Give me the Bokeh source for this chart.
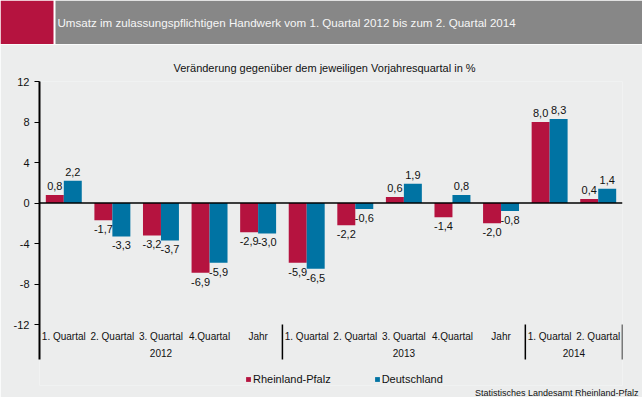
from bokeh.plotting import figure
from bokeh.models import FactorRange, FixedTicker, Span, Legend, LegendItem, Title, ColumnDataSource
from bokeh.transform import dodge
from bokeh.layouts import column
from bokeh.core.properties import value
from bokeh.embed import file_html
from bokeh.resources import INLINE

# ---------------- data ----------------
title_text = "Umsatz im zulassungspflichtigen Handwerk vom 1. Quartal 2012 bis zum 2. Quartal 2014"
subtitle_text = "Veränderung gegenüber dem jeweiligen Vorjahresquartal in %"
source_text = "Statistisches Landesamt Rheinland-Pfalz"

years = ["2012"] * 5 + ["2013"] * 5 + ["2014"] * 2
quarters = ["1. Quartal", "2. Quartal", "3. Quartal", "4.Quartal", "Jahr",
            "1. Quartal", "2. Quartal", "3. Quartal", "4.Quartal", "Jahr",
            "1. Quartal", "2. Quartal"]
rlp = [0.8, -1.7, -3.2, -6.9, -2.9, -5.9, -2.2, 0.6, -1.4, -2.0, 8.0, 0.4]
de = [2.2, -3.3, -3.7, -5.9, -3.0, -6.5, -0.6, 1.9, 0.8, -0.8, 8.3, 1.4]
series_names = ["Rheinland-Pfalz", "Deutschland"]
y_ticks = [-12, -8, -4, 0, 4, 8, 12]
y_tick_labels = ["-12", "-8", "-4", "0", "4", "8", "12"]

# ---------------- style / layout ----------------
RED = "#B5133F"
BLUE = "#0073A3"
GRAY = "#878787"
BG = "#ECEDED"
TXT = "#111111"
FONT = "Liberation Sans"
W = 642
HDR_H = 44
BLOCK_W = 53
GAP_W = 2
FRAME_W = 583
FRAME_H = 304
BORDER_L, BORDER_R, BORDER_T, BORDER_B = 39, 20, 37, 12
PX_PER_UNIT = 243 / 24.0
Y_TOP = y_ticks[-1]
Y_BOTTOM = Y_TOP - FRAME_H / PX_PER_UNIT
SEP_DEPTH_PX = 35
BAR_W = 0.37

# ---------------- header ----------------
hdr = figure(width=W, height=HDR_H, x_range=(0, W), y_range=(0, HDR_H),
             toolbar_location=None, output_backend="svg", min_border=0,
             x_axis_location=None, y_axis_location=None)
hdr.frame_align = False
hdr.grid.visible = False
hdr.outline_line_color = None
hdr.background_fill_color = "white"
hdr.border_fill_color = "white"
hdr.quad(left=[0, BLOCK_W + GAP_W], right=[BLOCK_W, W], bottom=[0, 0],
         top=[HDR_H, HDR_H], fill_color=[RED, GRAY], line_color=None)
hdr.text(x=[BLOCK_W + GAP_W + 2], y=[HDR_H / 2], text=[title_text], text_font=value(FONT),
         text_font_size="11.6px", text_color="#F6F6F6", text_baseline="middle",
         text_align="left")

# ---------------- main chart ----------------
factors = list(zip(years, quarters))
x_range = FactorRange(*factors, group_padding=0, range_padding=0, factor_padding=0)

p = figure(frame_width=FRAME_W, frame_height=FRAME_H, x_range=x_range,
           y_range=(Y_BOTTOM, Y_TOP), toolbar_location=None, output_backend="svg",
           title=subtitle_text, x_axis_location=None,
           min_border_left=BORDER_L, min_border_right=BORDER_R,
           min_border_top=BORDER_T, min_border_bottom=BORDER_B)
p.frame_align = False
p.background_fill_color = BG
p.border_fill_color = BG
p.outline_line_color = None
p.grid.visible = False

p.title.align = "left"
p.title.text_font = FONT
p.title.text_font_size = "11px"
p.title.text_font_style = "normal"
p.title.text_color = TXT
p.title.offset = 134
p.title.standoff = 15

src = ColumnDataSource(dict(x=factors, rlp=rlp, de=de))
r_rlp = p.vbar(x=dodge("x", -BAR_W / 2, range=p.x_range), top="rlp", width=BAR_W,
               fill_color=RED, line_color=None, source=src)
r_de = p.vbar(x=dodge("x", BAR_W / 2, range=p.x_range), top="de", width=BAR_W,
              fill_color=BLUE, line_color=None, source=src)

def fmt(v):
    return f"{v:.1f}".replace(".", ",")

for vals, off in ((rlp, -BAR_W / 2), (de, BAR_W / 2)):
    for positive in (True, False):
        xs = [f for f, v in zip(factors, vals) if (v >= 0) == positive]
        ys = [v for v in vals if (v >= 0) == positive]
        s = ColumnDataSource(dict(x=xs, y=ys, t=[fmt(v) for v in ys]))
        p.text(x=dodge("x", off, range=p.x_range), y="y", text="t", source=s,
               text_font=value(FONT), text_font_size="11px", text_color=TXT,
               text_align="center",
               text_baseline="bottom" if positive else "top",
               y_offset=-5 if positive else 5)

p.add_layout(Span(location=0, dimension="width", line_color="black", line_width=1.5))

# category labels below the value range
y_low = y_ticks[0]
p.text(x=factors, y=y_low, text=quarters, text_font=value(FONT), text_font_size="10px",
       text_color=TXT, text_align="center", text_baseline="middle", y_offset=12)
year_groups = list(dict.fromkeys(years))
p.text(x=year_groups, y=y_low, text=year_groups, text_font=value(FONT),
       text_font_size="10px", text_color=TXT, text_align="center",
       text_baseline="middle", y_offset=28.5)

# separators at the end of each year group
bounds = [i for i in range(1, len(years)) if years[i] != years[i - 1]] + [len(years)]
sep_bottom = y_low - SEP_DEPTH_PX / PX_PER_UNIT
p.segment(x0=bounds, x1=bounds, y0=y_low, y1=sep_bottom, line_color="black",
          line_width=1.5)

# y axis
p.yaxis.ticker = FixedTicker(ticks=y_ticks)
p.yaxis.major_label_overrides = dict(zip(y_ticks, y_tick_labels))
p.yaxis.bounds = (sep_bottom, Y_TOP)
p.yaxis.axis_line_width = 2
p.yaxis.axis_line_color = "black"
p.yaxis.major_tick_line_color = "black"
p.yaxis.major_tick_out = 5
p.yaxis.major_tick_in = 0
p.yaxis.minor_tick_line_color = None
p.yaxis.major_label_text_font = FONT
p.yaxis.major_label_text_font_size = "11px"
p.yaxis.major_label_text_color = TXT
p.yaxis.major_label_standoff = 5

legend = Legend(items=[LegendItem(label=series_names[0], renderers=[r_rlp]),
                       LegendItem(label=series_names[1], renderers=[r_de])],
                orientation="horizontal", location=(206, 0),
                background_fill_alpha=0, border_line_color=None,
                label_text_font=FONT, label_text_font_size="11px",
                label_text_color=TXT, glyph_width=6, glyph_height=6,
                label_height=12, label_standoff=2, spacing=43, padding=0, margin=0)
p.add_layout(legend, "center")

src_title = Title(text=source_text, align="right", text_font=FONT,
                  text_font_size="9px", text_font_style="normal", text_color=TXT,
                  standoff=0, offset=-16)
p.add_layout(src_title, "below")

layout = column(hdr, p, spacing=0)
open("out.html", "w").write(file_html(layout, INLINE))
